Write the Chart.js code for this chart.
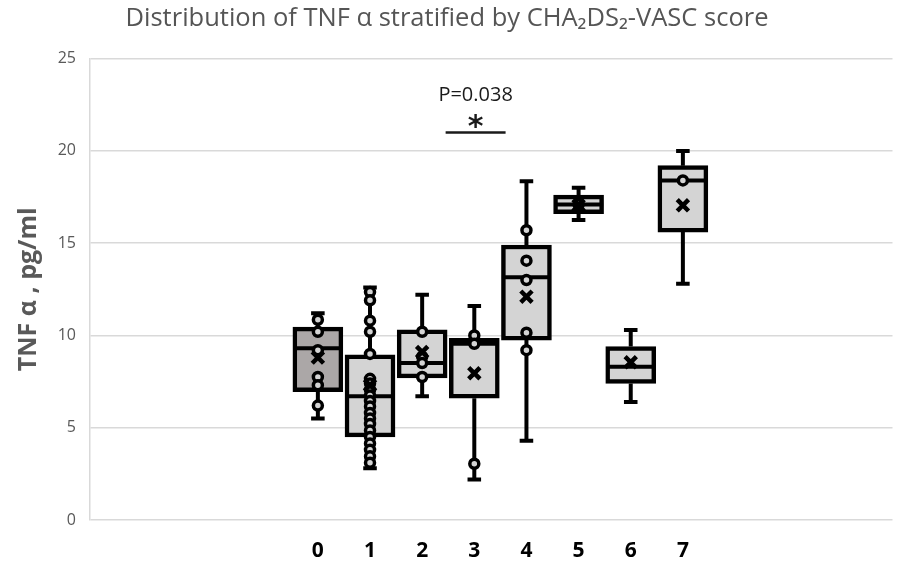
<!DOCTYPE html>
<html>
<head>
<meta charset="utf-8">
<script src="https://cdn.jsdelivr.net/npm/chart.js@4/dist/chart.umd.min.js"></script>
<style>
  html, body { margin: 0; padding: 0; background: #fff; }
  #wrap { width: 905px; height: 566px; }
</style>
</head>
<body>
<div id="wrap"><canvas id="chart" width="905" height="566"></canvas></div>
<script>
// CHA2DS2-VASc score groups
const scores = [0, 1, 2, 3, 4, 5, 6, 7];

// box plot statistics (TNF alpha, pg/ml)
const whiskerMin = [5.5, 2.8, 6.7, 2.2, 4.3, 16.25, 6.4, 12.8];
const q1 = [6.95, 4.5, 7.7, 6.6, 9.75, 16.6, 7.4, 15.6];
const median = [9.3, 6.7, 8.5, 9.55, 13.15, 17.1, 8.3, 18.4];
const q3 = [10.45, 8.95, 10.3, 9.85, 14.9, 17.6, 9.4, 19.2];
const whiskerMax = [11.2, 12.6, 12.2, 11.6, 18.35, 18.0, 10.3, 20.0];
const means = [8.8, 7.3, 9.1, 7.95, 12.1, 17.05, 8.55, 17.05];

// inner points per group
const innerPoints = [
  [10.85, 10.2, 9.2, 7.75, 7.3, 6.2],
  [12.35, 11.9, 10.8, 10.2, 9.0, 7.65, 7.4, 7.05, 6.75, 6.45, 6.15, 5.8, 5.5, 5.2, 4.85, 4.5, 4.15, 3.8, 3.45, 3.1],
  [10.2, 8.85, 8.5, 7.75],
  [10.0, 9.55, 3.05],
  [15.7, 14.05, 13.0, 10.15, 9.2],
  [17.1],
  [],
  [18.4]
];

const boxFill = ['#aba7a7', '#d4d4d4', '#d4d4d4', '#d4d4d4', '#d4d4d4', '#d4d4d4', '#d4d4d4', '#d4d4d4'];

// significance bracket between groups 2-3
const sigRange = [2.45, 3.6];
const sigY = 21.0;
const sigLabel = 'P=0.038';

const halfCap = 0.13;
const halfBox = 0.47;

// whisker and cap segments, broken with null
const whiskerSegs = [];
scores.forEach(function (s, i) {
  whiskerSegs.push({ x: s, y: q3[i] }, { x: s, y: whiskerMax[i] }, { x: s, y: null });
  whiskerSegs.push({ x: s, y: q1[i] }, { x: s, y: whiskerMin[i] }, { x: s, y: null });
  whiskerSegs.push({ x: s - halfCap, y: whiskerMax[i] }, { x: s + halfCap, y: whiskerMax[i] }, { x: s, y: null });
  whiskerSegs.push({ x: s - halfCap, y: whiskerMin[i] }, { x: s + halfCap, y: whiskerMin[i] }, { x: s, y: null });
});

const medianSegs = [];
scores.forEach(function (s, i) {
  medianSegs.push({ x: s - halfBox, y: median[i] }, { x: s + halfBox, y: median[i] }, { x: s, y: null });
});

const pointData = [];
innerPoints.forEach(function (list, i) {
  list.forEach(function (v) { pointData.push({ x: scores[i], y: v }); });
});

const sigAnnot = {
  id: 'sigAnnot',
  afterDatasetsDraw(chart) {
    const ctx = chart.ctx;
    const xs = chart.scales.x, ys = chart.scales.y;
    const cx = xs.getPixelForValue((sigRange[0] + sigRange[1]) / 2);
    ctx.save();
    ctx.fillStyle = '#1a1a1a';
    ctx.textAlign = 'center';
    ctx.textBaseline = 'middle';
    ctx.font = "20px 'Open Sans', sans-serif";
    ctx.fillText(sigLabel, cx, ys.getPixelForValue(sigY + 2.0));
    ctx.font = "bold 30px 'DejaVu Sans', sans-serif";
    ctx.fillText('*', cx, ys.getPixelForValue(sigY + 0.25));
    ctx.restore();
  }
};

new Chart(document.getElementById('chart').getContext('2d'), {
  type: 'bar',
  data: {
    datasets: [
      {
        type: 'bar',
        data: scores.map(function (s, i) { return { x: s, y: [q1[i], q3[i]] }; }),
        backgroundColor: boxFill,
        borderColor: '#000',
        borderWidth: 4.5,
        borderSkipped: false,
        barThickness: 50,
        order: 5
      },
      {
        type: 'line',
        data: whiskerSegs,
        borderColor: '#000',
        borderWidth: 4,
        pointRadius: 0,
        spanGaps: false,
        tension: 0,
        order: 6
      },
      {
        type: 'line',
        data: medianSegs,
        borderColor: '#000',
        borderWidth: 4,
        pointRadius: 0,
        spanGaps: false,
        tension: 0,
        order: 4
      },
      {
        type: 'scatter',
        data: pointData,
        pointStyle: 'circle',
        pointRadius: 4.5,
        borderWidth: 3.5,
        borderColor: '#000',
        backgroundColor: '#d4d4d4',
        order: 3
      },
      {
        type: 'scatter',
        data: scores.map(function (s, i) { return { x: s, y: means[i] }; }),
        pointStyle: 'crossRot',
        pointRadius: 8,
        borderWidth: 4.5,
        borderColor: '#000',
        order: 2
      },
      {
        type: 'line',
        data: [{ x: sigRange[0], y: sigY }, { x: sigRange[1], y: sigY }],
        borderColor: '#1a1a1a',
        borderWidth: 2.5,
        pointRadius: 0,
        order: 1
      }
    ]
  },
  options: {
    responsive: false,
    animation: false,
    layout: { padding: { left: 0, right: 11, top: 0, bottom: 0 } },
    plugins: {
      legend: { display: false },
      tooltip: { enabled: false },
      title: {
        display: true,
        text: 'Distribution of TNF \u03b1 stratified by CHA\u2082DS\u2082-VASC score',
        color: '#555555',
        font: { family: "'Open Sans', sans-serif", size: 25.5, weight: 'normal' },
        padding: { top: 3, bottom: 25 }
      }
    },
    scales: {
      x: {
        type: 'linear',
        offset: false,
        min: -4.37,
        max: 11.02,
        grid: { display: false },
        border: { display: false },
        afterBuildTicks: function (scale) {
          scale.ticks = scores.map(function (s) { return { value: s }; });
        },
        afterFit: function (scale) { scale.height = 46; },
        ticks: {
          color: '#000',
          padding: 10,
          font: { family: "'Open Sans', sans-serif", size: 21, weight: 'bold' },
          callback: function (v) { return String(v); }
        }
      },
      y: {
        min: 0,
        max: 25,
        afterFit: function (scale) { scale.width = 90; },
        grid: { color: '#d9d9d9', lineWidth: 1.5, drawTicks: false },
        border: { display: true, color: '#d9d9d9', width: 1.5 },
        ticks: {
          stepSize: 5,
          color: '#595959',
          padding: 14,
          font: { family: "'Open Sans', sans-serif", size: 16 }
        },
        title: {
          display: true,
          text: 'TNF \u03b1 , pg/ml',
          color: '#595959',
          padding: { top: 14, bottom: 0 },
          font: { family: "'Open Sans', sans-serif", size: 25, weight: 'bold' }
        }
      }
    }
  },
  plugins: [sigAnnot]
});
</script>
</body>
</html>
